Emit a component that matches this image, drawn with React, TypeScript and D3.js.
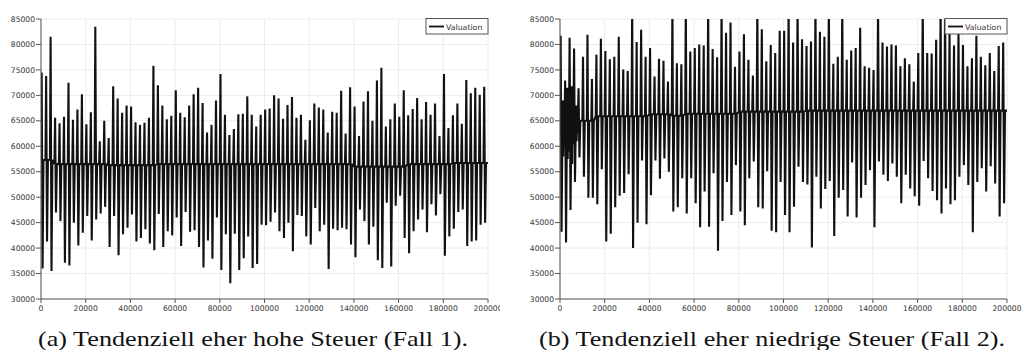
import React from 'react';
import * as d3 from 'd3';

// ---------- data ----------
const yTicks = [30000, 35000, 40000, 45000, 50000, 55000, 60000, 65000, 70000, 75000, 80000, 85000];
const xTicks = [0, 20000, 40000, 60000, 80000, 100000, 120000, 140000, 160000, 180000, 200000];
const seriesName = 'Valuation';
const captionA = '(a) Tendenziell eher hohe Steuer (Fall 1).';
const captionB = '(b) Tendenziell eher niedrige Steuer (Fall 2).';
const eventStep = 2000;

// Panel (a): peak and trough of each oscillation event (one event every 2000 steps)
const highA = [
  74500, 73800, 81500, 65600, 64500, 65800, 72500, 65200, 67200, 70200,
  64300, 66700, 83500, 61000, 65000, 61600, 71800, 69400, 66600, 68000,
  67800, 64700, 64200, 64600, 65600, 75800, 72000, 68000, 65300, 66000,
  71000, 66600, 65700, 68000, 70200, 71500, 68500, 62700, 64200, 69000,
  74200, 66200, 62200, 63400, 66300,
  66400, 69800, 66200, 63900, 66200, 67200, 67400, 70000, 69400, 65400,
  68100, 69700, 65600, 66200, 61300, 65100, 68400, 67600, 67200, 62700,
  66800, 66600, 70900, 62500, 71600, 67800, 62000, 68800, 70800, 65000,
  72900, 75400, 63900, 65300, 68400, 65800, 71000, 66100, 67300, 69500,
  65300, 68700, 66200, 68400, 62000, 74200, 63600, 66100, 68400, 64400,
  73000, 70400, 71500, 70100, 71700,
];
const lowA = [
  36000, 41300, 35500, 47000, 45300, 37100, 36600, 45000, 40500, 43000,
  46300, 41500, 45600, 46800, 48100, 40200, 46300, 38600, 42700, 44000,
  46600, 41300, 42000, 43700, 40900, 39600, 46700, 40200, 43300, 42500,
  46000, 40400, 47100, 43200, 43500, 40200, 36200, 41500, 37900, 46000,
  35700, 42700, 33100, 42800, 35700,
  38000, 42300, 36100, 36900, 44600, 44500, 45200, 47000, 43300, 42000,
  45000, 39400, 46500, 46300, 42300, 40700, 47900, 43300, 44600, 35900,
  43800, 43500, 44000, 43700, 40700, 38200, 47600, 45300, 40700, 44200,
  37600, 36100, 48900, 36400, 48300, 50300, 42000, 39000, 43300, 45600,
  47600, 43100, 48600, 46400, 50600, 38500, 42300, 43800, 47100, 47600,
  40400, 41300, 41500, 44600, 45000,
];
// baseline level (event index where each level starts)
const baseAStart = [0, 3, 15, 26, 70, 82, 92];
const baseAValue = [57300, 56500, 56300, 56500, 56000, 56500, 56700];

// Panel (b)
const highB = [
  81700, 72900, 81300, 79200, 71400, 77600, 81900, 73200, 78000, 81100,
  78700, 77100, 77600, 81500, 75100, 74800, 88000, 80500, 82900, 77600,
  79300, 73700, 77200, 76800, 72700, 88000, 76300, 76100, 88000, 78600,
  79300, 80000, 79800, 88000, 79100, 77500, 88000, 82300, 84300, 75600,
  78600, 82000, 77000, 73900, 88000,
  83000, 76700, 79900, 78300, 82700, 82700, 88000, 80400, 88000, 81000,
  79700, 80600, 88000, 82500, 81500, 88000, 76200, 77600, 88000, 77000,
  78800, 79300, 83300, 75700, 75400, 75000, 88000, 80400, 79600, 80000,
  79800, 75700, 77300, 76100, 72700, 78300, 88000, 78300, 78200, 80900,
  88000, 88000, 82200, 79800, 82200, 79900, 75700, 77300, 81700, 77600,
  75900, 78300, 74800, 79700, 80400,
];
const lowB = [
  43200, 41100, 47500, 53000, 57800, 54000, 49900, 49900, 48600, 55500,
  41300, 42800, 48000, 50300, 50800, 54500, 40000, 45000, 57200, 44700,
  50400, 57200, 53600, 57600, 55000, 47200, 48000, 53700, 46800, 53700,
  48800, 44100, 51100, 44200, 54700, 39500, 45300, 53000, 46500, 56300,
  47200, 44500, 53700, 57000, 48000, 47800, 55100, 43400, 43100, 53000,
  46500, 43100, 48100, 56000, 53000, 52500, 40100, 54000, 47800, 51600,
  53200, 42400, 49900, 51400, 46200, 56800, 46000, 49900, 52400, 55300,
  44100, 57000, 54400, 53200, 56600, 54000, 48800, 54400, 51700, 50200,
  48300, 57100, 53700, 51200, 49400, 46800, 51700, 48600, 49400, 54000,
  56300, 52400, 43100, 53000, 55700, 51100, 56100, 52700, 46200, 48800,
];
const baseBStart = [0, 2, 8, 20, 25, 28, 40, 55];
const baseBValue = [64300, 65000, 65900, 66300, 66000, 66400, 66800, 67000];
// initial transient of panel (b)
const transBx = [1250, 1450, 1650, 1850, 3250, 3450, 3650, 3850, 5250, 5450, 5650, 5850, 7250, 7450, 7650, 7850];
const transBy = [69000, 58000, 68000, 60000, 71500, 57500, 70500, 59000, 71800, 56500, 69500, 60500, 68000, 61000, 66500, 62500];

// ---------- helpers ----------
function buildSeries(high: number[], low: number[], bStart: number[], bVal: number[], tx: number[] = [], ty: number[] = []) {
  const baseAt = (i: number) => {
    let v = bVal[0];
    for (let k = 0; k < bStart.length; k++) if (i >= bStart[k]) v = bVal[k];
    return v;
  };
  const pts: [number, number][] = [];
  for (let i = 0; i < high.length; i++) {
    const x0 = i * eventStep;
    const b = baseAt(i);
    pts.push([x0, b]);
    pts.push([x0 + 300, high[i]]);
    pts.push([x0 + 700, low[i]]);
    pts.push([x0 + 1100, b]);
    for (let k = 0; k < tx.length; k++) {
      if (tx[k] > x0 + 1100 && tx[k] < x0 + eventStep) pts.push([tx[k], ty[k]]);
    }
  }
  pts.push([high.length * eventStep, baseAt(high.length - 1)]);
  return pts;
}

const TOP = 19;
const BOTTOM = 299;
const tickFont = '"DejaVu Sans", sans-serif';

function Panel(props: {
  left: number; right: number; data: [number, number][]; caption: string;
  captionLen: number; captionX: number; id: string; clipRight?: number;
}) {
  const { left, right, data, caption, captionLen, captionX, id, clipRight } = props;
  const x = d3.scaleLinear().domain([0, 200000]).range([left, right]);
  const y = d3.scaleLinear().domain([30000, 85000]).range([BOTTOM, TOP]);
  const line = d3.line<[number, number]>().x(d => x(d[0])).y(d => y(d[1]));
  const legW = 63;
  const legX = right - legW + 1;
  return (
    <g clipPath={clipRight ? `url(#outer-${id})` : undefined}>
      <defs>
        <clipPath id={`plot-${id}`}>
          <rect x={left} y={TOP} width={right - left} height={BOTTOM - TOP} />
        </clipPath>
        {clipRight ? (
          <clipPath id={`outer-${id}`}>
            <rect x={0} y={0} width={clipRight} height={350} />
          </clipPath>
        ) : null}
      </defs>
      {/* grid */}
      {yTicks.map(t => (
        <line key={'gy' + t} x1={left} x2={right} y1={y(t)} y2={y(t)} stroke="#ececec" strokeWidth={1} />
      ))}
      {xTicks.map(t => (
        <line key={'gx' + t} x1={x(t)} x2={x(t)} y1={TOP} y2={BOTTOM} stroke="#ececec" strokeWidth={1} />
      ))}
      {/* series */}
      <g clipPath={`url(#plot-${id})`}>
        <path d={line(data) || ''} fill="none" stroke="#111" strokeWidth={2.1} strokeLinejoin="bevel" />
      </g>
      {/* axes */}
      <line x1={left} x2={left} y1={TOP} y2={BOTTOM} stroke="#555" strokeWidth={1} />
      <line x1={left} x2={right} y1={BOTTOM} y2={BOTTOM} stroke="#555" strokeWidth={1} />
      {yTicks.map(t => (
        <g key={'ty' + t}>
          <line x1={left - 5} x2={left} y1={y(t)} y2={y(t)} stroke="#555" strokeWidth={1} />
          <text x={left - 6} y={y(t)} dy="0.35em" textAnchor="end" fontSize={7.6} fontFamily={tickFont} fill="#333">{t}</text>
        </g>
      ))}
      {xTicks.map(t => (
        <g key={'tx' + t}>
          <line x1={x(t)} x2={x(t)} y1={BOTTOM} y2={BOTTOM + 4} stroke="#555" strokeWidth={1} />
          <text x={x(t)} y={BOTTOM + 12} textAnchor="middle" fontSize={7.6} fontFamily={tickFont} fill="#333">{t}</text>
        </g>
      ))}
      {/* legend */}
      <rect x={legX} y={18.5} width={legW - 1} height={15.5} fill="#fff" stroke="#555" strokeWidth={1} />
      <line x1={legX + 3} x2={legX + 18} y1={26.5} y2={26.5} stroke="#111" strokeWidth={1.8} />
      <text x={legX + 20} y={29.5} fontSize={7.8} fontFamily={tickFont} fill="#333">{seriesName}</text>
      {/* caption */}
      <text x={captionX} y={345.5} fontSize={22} fontFamily='"Liberation Serif", serif' fill="#111"
        textLength={captionLen} lengthAdjust="spacingAndGlyphs">{caption}</text>
    </g>
  );
}

export default function App() {
  const dataA = buildSeries(highA, lowA, baseAStart, baseAValue);
  const dataB = buildSeries(highB, lowB, baseBStart, baseBValue, transBx, transBy);
  return (
    <svg width={1022} height={350} style={{ position: 'absolute', left: 0, top: 0, background: '#fff' }}>
      <rect x={0} y={0} width={1022} height={350} fill="#fff" />
      <Panel left={41} right={488} data={dataA} caption={captionA} captionLen={430} captionX={38} id="a" clipRight={500} />
      <Panel left={560} right={1007} data={dataB} caption={captionB} captionLen={466} captionX={539} id="b" />
    </svg>
  );
}
